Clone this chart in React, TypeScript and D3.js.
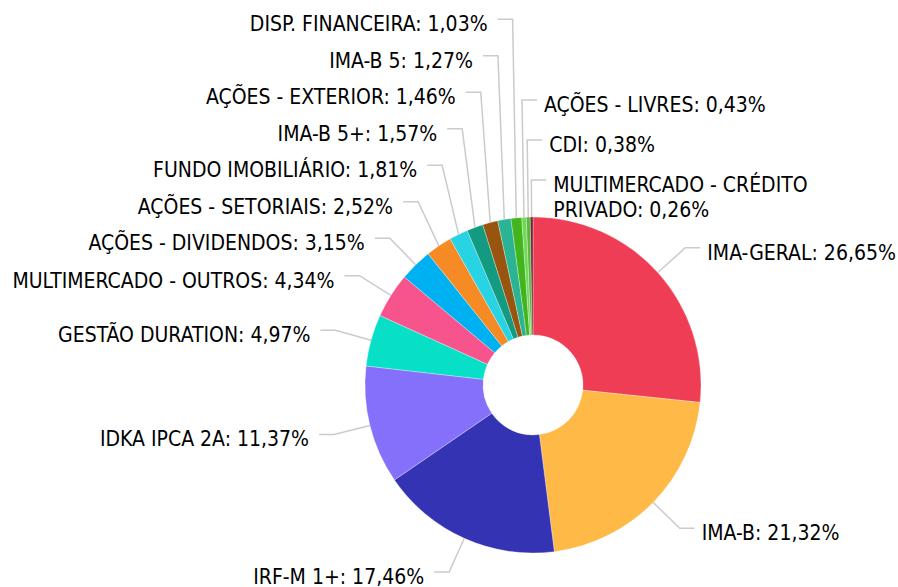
import React from 'react';
import * as d3 from 'd3';

// slice order follows the reference, clockwise from 12 o'clock
const categories = [
  'IMA-GERAL',
  'IMA-B',
  'IRF-M 1+',
  'IDKA IPCA 2A',
  'GESTÃO DURATION',
  'MULTIMERCADO - OUTROS',
  'AÇÕES - DIVIDENDOS',
  'AÇÕES - SETORIAIS',
  'FUNDO IMOBILIÁRIO',
  'IMA-B 5+',
  'AÇÕES - EXTERIOR',
  'IMA-B 5',
  'DISP. FINANCEIRA',
  'AÇÕES - LIVRES',
  'CDI',
  'MULTIMERCADO - CRÉDITO PRIVADO',
];
const shares = [26.65, 21.32, 17.46, 11.37, 4.97, 4.34, 3.15, 2.52, 1.81, 1.57, 1.46, 1.27, 1.03, 0.43, 0.38, 0.26];
const sliceColors = [
  '#ee3d55', '#ffb946', '#3333b3', '#8470fa', '#07e0c6', '#f7548e', '#00b1f1', '#f68a25',
  '#28d3e3', '#129b80', '#97550f', '#2bb493', '#42b51e', '#70d955', '#58b83e', '#6b2631',
];

const W = 898;
const H = 587;
const cx = 533;
const cy = 385;
const outerR = 168;
const innerR = 50;
const tickR = 205;
const hLine = 15;
const fontSize = 21;
const lineH = 25;
const font = '"DejaVu Sans", sans-serif';

const fmt = (v: number) => d3.format('.2f')(v).replace('.', ',') + '%';

// measure text with a throwaway svg node so the condensed face is used
const measure = (s: string) => {
  const svg = d3.select(document.body).append('svg').style('position', 'absolute').style('visibility', 'hidden');
  const t = svg
    .append('text')
    .attr('font-family', font)
    .attr('font-size', fontSize)
    .style('font-stretch', 'condensed')
    .text(s);
  const w = (t.node() as SVGTextElement).getComputedTextLength();
  svg.remove();
  return w;
};

const wrap = (s: string, maxW: number) => {
  const words = s.split(' ');
  const lines: string[] = [];
  let cur = '';
  words.forEach(w => {
    const next = cur ? cur + ' ' + w : w;
    if (cur && measure(next) > maxW) {
      lines.push(cur);
      cur = w;
    } else cur = next;
  });
  if (cur) lines.push(cur);
  return lines;
};

type Lbl = {
  i: number;
  a: number;
  right: boolean;
  y: number;
  bx: number;
  lines: string[];
};

const App = () => {
  const data = categories.map((c, i) => ({ name: c, value: shares[i], color: sliceColors[i] }));
  const arcs = d3.pie<any>().sort(null).value(d => d.value).startAngle(0).endAngle(2 * Math.PI)(data);
  const arcGen = d3.arc<any>().innerRadius(innerR).outerRadius(outerR);

  const labels: Lbl[] = arcs.map((d, i) => {
    const a = (d.startAngle + d.endAngle) / 2;
    const right = Math.sin(a) >= -0.07;
    const bx = cx + tickR * Math.sin(a);
    const text = `${d.data.name}: ${fmt(d.data.value)}`;
    const tx = right ? bx + hLine + 7 : bx - hLine - 10;
    const maxW = right ? W - tx : tx;
    return { i, a, right, y: cy - tickR * Math.cos(a), bx, lines: wrap(text, maxW) };
  });

  // push labels upward so they don't overlap
  const arrange = (list: Lbl[], gap: number) => {
    for (let k = list.length - 2; k >= 0; k--) {
      const lb = list[k];
      const below = list[k + 1];
      const need = gap + (lb.lines.length - 1) * lineH;
      lb.y = Math.min(lb.y, below.y - need);
    }
  };
  const key = (a: number) => (a > Math.PI ? a - 2 * Math.PI : a);
  const rightSide = labels.filter(l => l.right).sort((p, q) => key(p.a) - key(q.a));
  const leftSide = labels.filter(l => !l.right).sort((p, q) => q.a - p.a);
  arrange(rightSide, 40);
  arrange(leftSide, 36.5);

  return (
    <svg width={W} height={H} style={{ position: 'absolute', left: 0, top: 0, background: '#fff' }}>
      <g transform={`translate(${cx},${cy})`}>
        {arcs.map((d, i) => (
          <path key={i} d={arcGen(d) || ''} fill={d.data.color} stroke="#fff" strokeWidth={0.5} strokeOpacity={0.6} />
        ))}
      </g>
      {labels.map(l => {
        const ex = cx + outerR * Math.sin(l.a);
        const ey = cy - outerR * Math.cos(l.a);
        const hx = l.right ? l.bx + hLine : l.bx - hLine;
        return (
          <path
            key={'t' + l.i}
            d={`M${ex},${ey}L${l.bx},${l.y}L${hx},${l.y}`}
            fill="none"
            stroke="#cbcbcb"
            strokeWidth={1.5}
          />
        );
      })}
      {labels.map(l => {
        const tx = l.right ? l.bx + hLine + 7 : l.bx - hLine - 10;
        return (
          <text
            key={'l' + l.i}
            x={tx}
            y={l.y + 12}
            textAnchor={l.right ? 'start' : 'end'}
            fontFamily={font}
            fontSize={fontSize}
            style={{ fontStretch: 'condensed' }}
            fill="#000"
          >
            {l.lines.map((s, k) => (
              <tspan key={k} x={tx} dy={k === 0 ? 0 : lineH}>
                {s}
              </tspan>
            ))}
          </text>
        );
      })}
    </svg>
  );
};

export default App;
